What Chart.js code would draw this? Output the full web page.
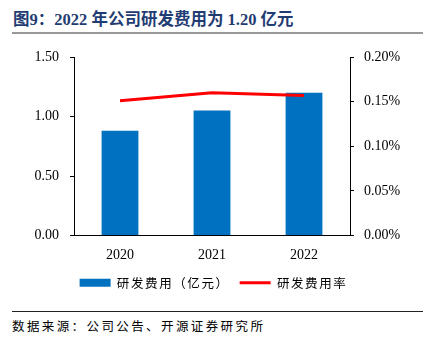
<!DOCTYPE html>
<html>
<head>
<meta charset="utf-8">
<script src="https://cdn.jsdelivr.net/npm/chart.js@4"></script>
<style>
	body { margin: 0; width: 427px; height: 345px; background: #fff; position: relative; overflow: hidden; }
	.title { position: absolute; left: 13px; top: 6px; font: bold 16.5px "Liberation Serif", "Noto Sans CJK SC", serif; color: #1f3c73; white-space: nowrap; }
	.rule-top { position: absolute; left: 12px; top: 32px; width: 411px; height: 2px; background: #999; }
	.wrap { position: absolute; left: 0; top: 0; width: 427px; height: 299px; }
	.rule-bottom { position: absolute; left: 12px; top: 311px; width: 411px; height: 1px; background: #222; }
	.source { position: absolute; left: 12px; top: 316px; font: 12.5px "Noto Sans CJK SC", sans-serif; letter-spacing: 2.4px; color: #000; white-space: nowrap; }
</style>
</head>
<body>
<div class="title">图9：2022 年公司研发费用为 1.20 亿元</div>
<div class="rule-top"></div>
<div class="wrap"><canvas id="myChart" width="427" height="299"></canvas></div>
<div class="rule-bottom"></div>
<div class="source">数据来源：公司公告、开源证券研究所</div>
<script>
const years = ['2020', '2021', '2022'];
const rdCost = [0.88, 1.05, 1.20];      // 亿元
const rdRate = [0.151, 0.160, 0.157];   // %

const tickFont = { family: '"Liberation Serif", serif', size: 14 };

// spaced-out legend text, like the original
const legendSpacing = {
	id: 'legendSpacing',
	afterInit(chart) {
		const lg = chart.legend;
		if (!lg) return;
		const wrap = (fn) => function (...args) {
			const c = this.ctx;
			c.save();
			c.letterSpacing = '1.6px';
			const r = fn.apply(this, args);
			c.restore();
			return r;
		};
		lg.fit = wrap(lg.fit);
		lg.draw = wrap(lg.draw);
	},
};

const ctx = document.getElementById('myChart').getContext('2d');

new Chart(ctx, {
	data: {
		labels: years,
		datasets: [
			{
				type: 'line',
				label: '研发费用率',
				data: rdRate,
				yAxisID: 'y1',
				borderColor: '#ff0000',
				backgroundColor: '#ff0000',
				borderWidth: 3,
				pointRadius: 0,
				pointStyle: 'line',
				tension: 0,
				order: 0,
			},
			{
				type: 'bar',
				label: '研发费用（亿元）',
				data: rdCost,
				yAxisID: 'y',
				backgroundColor: '#0070c0',
				borderWidth: 0,
				barPercentage: 0.4,
				categoryPercentage: 1,
				pointStyle: 'rect',
				order: 1,
			},
		],
	},
	plugins: [legendSpacing],
	options: {
		responsive: false,
		animation: false,
		layout: { padding: { top: 57, left: 0, right: 0, bottom: 0 } },
		plugins: {
			tooltip: { enabled: false },
			legend: {
				position: 'bottom',
				reverse: true,
				labels: {
					usePointStyle: true,
					pointStyleWidth: 31,
					boxHeight: 8,
					padding: 10,
					color: '#000',
					font: { family: '"Noto Sans CJK SC", sans-serif', size: 12.5 },
				},
			},
		},
		scales: {
			x: {
				grid: { display: false },
				border: { color: '#000', width: 1 },
				ticks: { color: '#000', font: tickFont, padding: 3 },
				afterFit: (s) => { s.height = 31; },
			},
			y: {
				position: 'left',
				min: 0,
				max: 1.5,
				ticks: { stepSize: 0.5, color: '#000', font: tickFont, padding: 11, callback: (v) => v.toFixed(2) },
				grid: { drawOnChartArea: false, drawTicks: true, tickLength: 4, color: '#000' },
				border: { color: '#000', width: 1 },
				afterFit: (s) => { s.width = 74; },
			},
			y1: {
				position: 'right',
				min: 0,
				max: 0.2,
				ticks: { stepSize: 0.05, color: '#000', font: tickFont, padding: 10, callback: (v) => v.toFixed(2) + '%' },
				grid: { drawOnChartArea: false, drawTicks: true, tickLength: 4, color: '#000' },
				border: { color: '#000', width: 1 },
				afterFit: (s) => { s.width = 77; },
			},
		},
	},
});
</script>
</body>
</html>
